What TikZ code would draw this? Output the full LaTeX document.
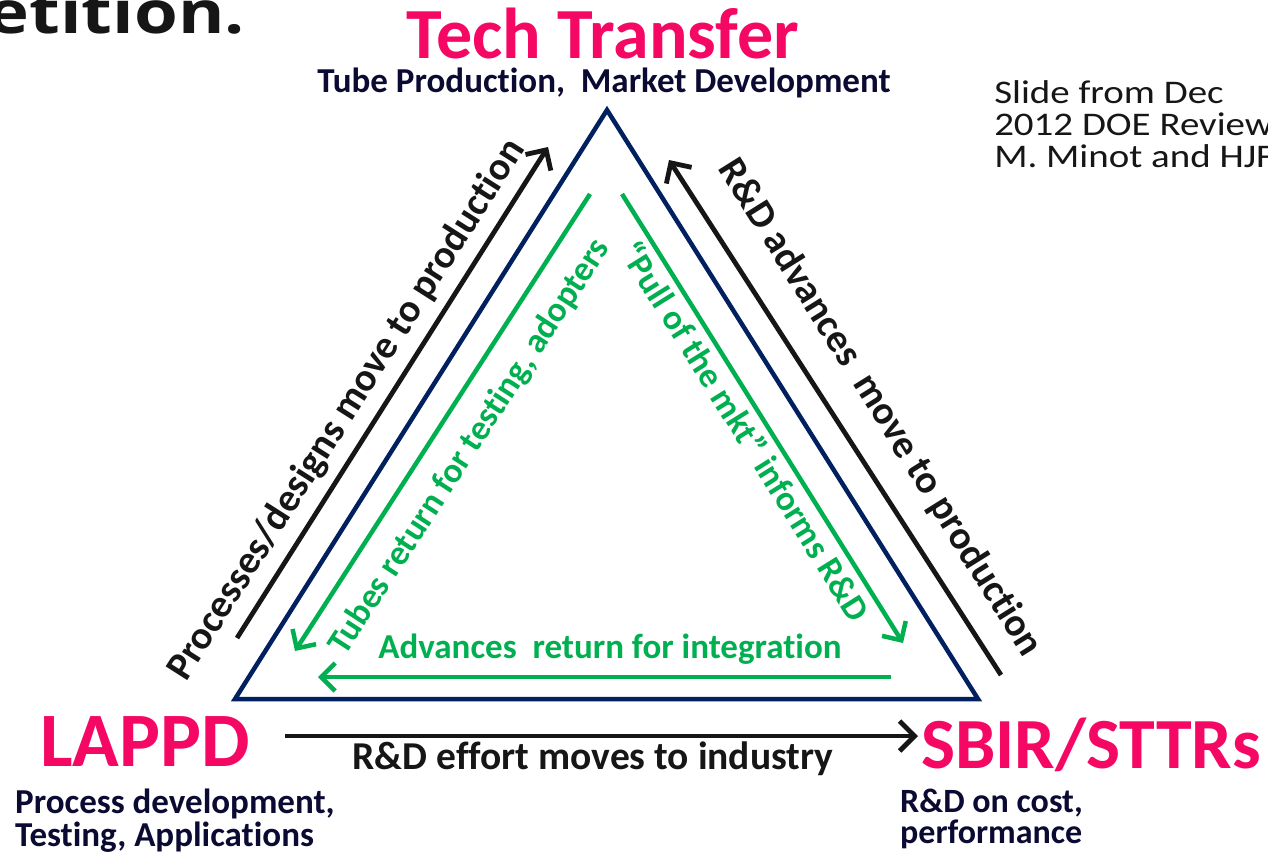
\documentclass[tikz,border=0pt]{standalone}
\usepackage{fontspec}
\setmainfont{Carlito}[Ligatures={NoCommon}]
\newfontfamily\osfont{Open Sans}
\usetikzlibrary{arrows.meta}
\definecolor{pinkc}{RGB}{245,8,100}
\definecolor{navyc}{RGB}{0,32,96}
\definecolor{darkc}{RGB}{10,10,50}
\definecolor{greenc}{RGB}{0,176,80}
\definecolor{blackc}{RGB}{22,22,22}
\begin{document}
\begin{tikzpicture}[x=1pt,y=-1pt,
  tri/.style={draw=navyc,line width=4.5pt,line join=miter},
  blkarrow/.style={draw=blackc,line width=4.8pt,-{Straight Barb[length=15pt,width=30pt,line width=4.8pt]}},
  grnarrow/.style={draw=greenc,line width=4.5pt,-{Straight Barb[length=14pt,width=28pt,line width=4.5pt]}},
  title/.style={text=pinkc,font=\bfseries\fontsize{72}{74}\selectfont,inner sep=0pt},
  sub/.style={text=darkc,font=\bfseries\fontsize{35}{33}\selectfont,inner sep=0pt,align=left},
  lbl/.style={text=blackc,font=\bfseries\fontsize{39.5}{40}\selectfont,inner sep=0pt},
  glbl/.style={text=greenc,font=\bfseries\fontsize{35}{36}\selectfont,inner sep=0pt},
]
\useasboundingbox (0,0) rectangle (1268,852);
\fill[white] (0,0) rectangle (1268,852);

% header fragment
\node[anchor=base east,inner sep=0pt,xscale=1.2,text=blackc,font=\osfont\bfseries\fontsize{59}{59}\selectfont] (head) at (245,33) {etition.};

% triangle
\coordinate (A) at (607,110);
\coordinate (B) at (235,699);
\coordinate (C) at (978,699);
\draw[tri] (A) -- (B) -- (C) -- cycle;

% titles
\node[title,anchor=base] (tt) at (603,58) {Tech Transfer};
\node[sub,anchor=base] (tts) at (604,92) {Tube Production,\ \ Market Development};
\node[inner sep=0pt,anchor=base west,align=left,xscale=1.18,text=blackc,font=\fontsize{33}{32}\selectfont] (note) at (994,167) {Slide from Dec\\2012 DOE Review\\M. Minot and HJF};

\node[title,anchor=base west,font=\bfseries\fontsize{77}{78}\selectfont] (lappd) at (40,766) {LAPPD};
\node[sub,anchor=base west] (lappds) at (15,846) {Process development,\\Testing, Applications};

\node[title,anchor=base west] (sbir) at (921,768) {SBIR/STTRs};
\node[sub,anchor=base west,font=\bfseries\fontsize{34}{31}\selectfont] (sbirs) at (900,843) {R\&D on cost,\\performance};

% black arrows
\coordinate (l1) at (237,638); \coordinate (l2) at (548,147);
\draw[blkarrow] (l1) -- (l2);
\coordinate (r1) at (1001,675); \coordinate (r2) at (669,160);
\draw[blkarrow] (r1) -- (r2);
\coordinate (b1) at (285,736); \coordinate (b2) at (918,736);
\draw[blkarrow,line width=4pt] (b1) -- (b2);

% green arrows
\coordinate (g1) at (590,194); \coordinate (g2) at (295,651);
\draw[grnarrow] (g1) -- (g2);
\coordinate (g3) at (622,194); \coordinate (g4) at (903,643);
\draw[grnarrow] (g3) -- (g4);
\coordinate (g5) at (891,677); \coordinate (g6) at (318,677);
\draw[grnarrow] (g5) -- (g6);

% labels
\node[lbl,rotate=57.5] (lt) at (347,410) {Processes/designs move to production};
\node[lbl,rotate=-58] (rt) at (880,408) {R\&D advances\ \ move to production};
\node[lbl,anchor=base] (bt) at (593,769) {R\&D effort moves to industry};
\node[glbl,rotate=57] (glt) at (470,447) {Tubes return for testing, adopters};
\node[glbl,rotate=-58] (grt) at (746,431) {“Pull of the mkt” informs R\&D};
\node[glbl,anchor=base] (gbt) at (610,658) {Advances\ \ return for integration};
\end{tikzpicture}
\end{document}
